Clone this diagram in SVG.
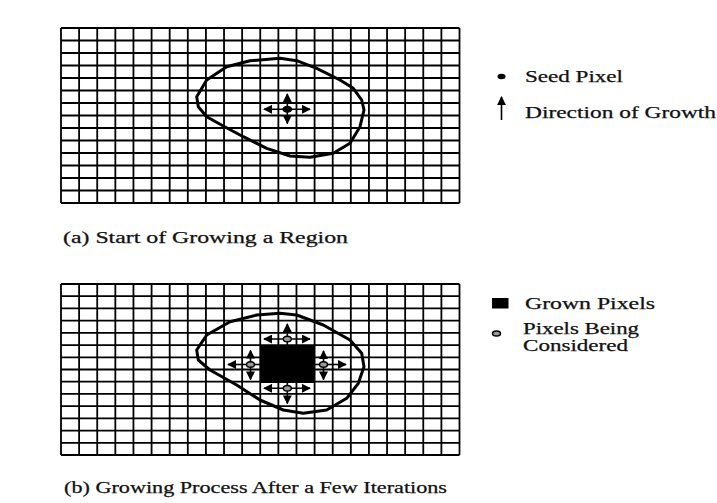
<svg xmlns="http://www.w3.org/2000/svg" width="717" height="503" viewBox="0 0 717 503">
<style>
.grid{fill:none;stroke:#000;stroke-width:1.8}
.region{fill:none;stroke:#000;stroke-width:3;stroke-linejoin:round}
.arr{stroke:#000;stroke-width:1.6;fill:none}
.lbl{font-family:"Liberation Serif","Times New Roman",serif;font-size:16px;fill:#111;stroke:#111;stroke-width:0.25}
.cons{fill:#999;stroke:#000;stroke-width:1.4}
</style>
<defs>
<marker id="ah" viewBox="0 0 10 10" refX="9" refY="5" markerWidth="9" markerHeight="9" markerUnits="userSpaceOnUse" orient="auto-start-reverse">
<path d="M0,0 L10,5 L0,10 z" fill="#000"/>
</marker>
</defs>
<rect width="717" height="503" fill="#fff"/>

<g id="grid-a">
<path class="grid" d="M61 28V203M79.11 28V203M97.23 28V203M115.34 28V203M133.45 28V203M151.57 28V203M169.68 28V203M187.8 28V203M205.91 28V203M224.03 28V203M242.14 28V203M260.25 28V203M278.37 28V203M296.48 28V203M314.59 28V203M332.71 28V203M350.82 28V203M368.94 28V203M387.05 28V203M405.16 28V203M423.28 28V203M441.39 28V203M459.5 28V203
M61 28H459.5M61 40.5H459.5M61 53H459.5M61 65.5H459.5M61 78H459.5M61 90.5H459.5M61 103H459.5M61 115.5H459.5M61 128H459.5M61 140.5H459.5M61 153H459.5M61 165.5H459.5M61 178H459.5M61 190.5H459.5M61 203H459.5"/>
</g>
<g id="region-a">
<path class="region" d="M196.7,96.7 L206.7,80 L226.7,66.7 L250,60.7 L280,58.3 L296.7,60.7 L316.7,68.3 L340,80 L353.3,88.3 L361.7,100 L364,110 L360,126.7 L350,143.3 L333.3,153.3 L310,157.3 L290,156 L266.7,148.3 L243.3,136.7 L223.3,126 L206.7,116.7 L198.3,106.7 Z"/>
</g>
<g id="seed-a">
<ellipse cx="287.3" cy="109.3" rx="5" ry="3.5" fill="#000"/>
</g>

<g id="grid-b">
<path class="grid" d="M61 284V455M79.11 284V455M97.23 284V455M115.34 284V455M133.45 284V455M151.57 284V455M169.68 284V455M187.8 284V455M205.91 284V455M224.03 284V455M242.14 284V455M260.25 284V455M278.37 284V455M296.48 284V455M314.59 284V455M332.71 284V455M350.82 284V455M368.94 284V455M387.05 284V455M405.16 284V455M423.28 284V455M441.39 284V455M459.5 284V455
M61 284H459.5M61 296.21H459.5M61 308.43H459.5M61 320.64H459.5M61 332.86H459.5M61 345.07H459.5M61 357.29H459.5M61 369.5H459.5M61 381.71H459.5M61 393.93H459.5M61 406.14H459.5M61 418.36H459.5M61 430.57H459.5M61 442.79H459.5M61 455H459.5"/>
</g>
<g id="region-b">
<path class="region" d="M196.7,350 L206.7,335 L230,321.7 L256.7,315 L280,313.3 L296.7,315 L323.3,325 L350,340 L361.7,353.3 L364,366.7 L358.3,383.3 L346.7,398.3 L326.7,410 L303.3,413.3 L283.3,410 L260,400 L236.7,385 L210,370 L198.3,360 Z"/>
</g>
<g id="grown-b">
<rect x="260" y="346" width="55" height="37" fill="#000"/>
</g>

<g id="connectors">
<line class="arr" x1="264" y1="109.3" x2="310" y2="109.3" marker-start="url(#ah)" marker-end="url(#ah)"/>
<line class="arr" x1="287.3" y1="94" x2="287.3" y2="123.5" marker-start="url(#ah)" marker-end="url(#ah)"/>

<line class="arr" x1="264" y1="339" x2="310" y2="339" marker-start="url(#ah)" marker-end="url(#ah)"/>
<line class="arr" x1="287.3" y1="346" x2="287.3" y2="324" marker-end="url(#ah)"/>

<line class="arr" x1="260" y1="364.5" x2="228" y2="364.5" marker-end="url(#ah)"/>
<line class="arr" x1="250.5" y1="350.5" x2="250.5" y2="379.5" marker-start="url(#ah)" marker-end="url(#ah)"/>

<line class="arr" x1="315" y1="364.5" x2="346" y2="364.5" marker-end="url(#ah)"/>
<line class="arr" x1="323.5" y1="351" x2="323.5" y2="379.5" marker-start="url(#ah)" marker-end="url(#ah)"/>

<line class="arr" x1="264" y1="388.3" x2="310" y2="388.3" marker-start="url(#ah)" marker-end="url(#ah)"/>
<line class="arr" x1="287.3" y1="383" x2="287.3" y2="403.5" marker-end="url(#ah)"/>
</g>

<g id="considered-b">
<ellipse class="cons" cx="287.3" cy="339" rx="4" ry="2.8"/>
<ellipse class="cons" cx="250.5" cy="364.5" rx="4" ry="2.8"/>
<ellipse class="cons" cx="323.5" cy="364.5" rx="4" ry="2.8"/>
<ellipse class="cons" cx="287.3" cy="388.3" rx="4" ry="2.8"/>
</g>

<g id="legend-seed">
<ellipse cx="501.5" cy="76.5" rx="4" ry="2.8" fill="#000"/>
<text class="lbl" x="525" y="82" textLength="98" lengthAdjust="spacingAndGlyphs">Seed Pixel</text>
</g>
<g id="legend-direction">
<line class="arr" x1="501.5" y1="120" x2="501.5" y2="97" marker-end="url(#ah)"/>
<text class="lbl" x="525" y="118" textLength="191" lengthAdjust="spacingAndGlyphs">Direction of Growth</text>
</g>
<g id="legend-grown">
<rect x="492" y="298" width="16.5" height="10.5" fill="#000"/>
<text class="lbl" x="525" y="308.5" textLength="130" lengthAdjust="spacingAndGlyphs">Grown Pixels</text>
</g>
<g id="legend-considered">
<ellipse class="cons" cx="496.5" cy="333.5" rx="4" ry="2.5"/>
<text class="lbl" x="523" y="334" textLength="116" lengthAdjust="spacingAndGlyphs">Pixels Being</text>
<text class="lbl" x="523" y="351" textLength="105" lengthAdjust="spacingAndGlyphs">Considered</text>
</g>

<g id="caption-a">
<text class="lbl" x="63" y="243" textLength="285" lengthAdjust="spacingAndGlyphs">(a) Start of Growing a Region</text>
</g>
<g id="caption-b">
<text class="lbl" x="64" y="493" textLength="383" lengthAdjust="spacingAndGlyphs">(b) Growing Process After a Few Iterations</text>
</g>
</svg>
